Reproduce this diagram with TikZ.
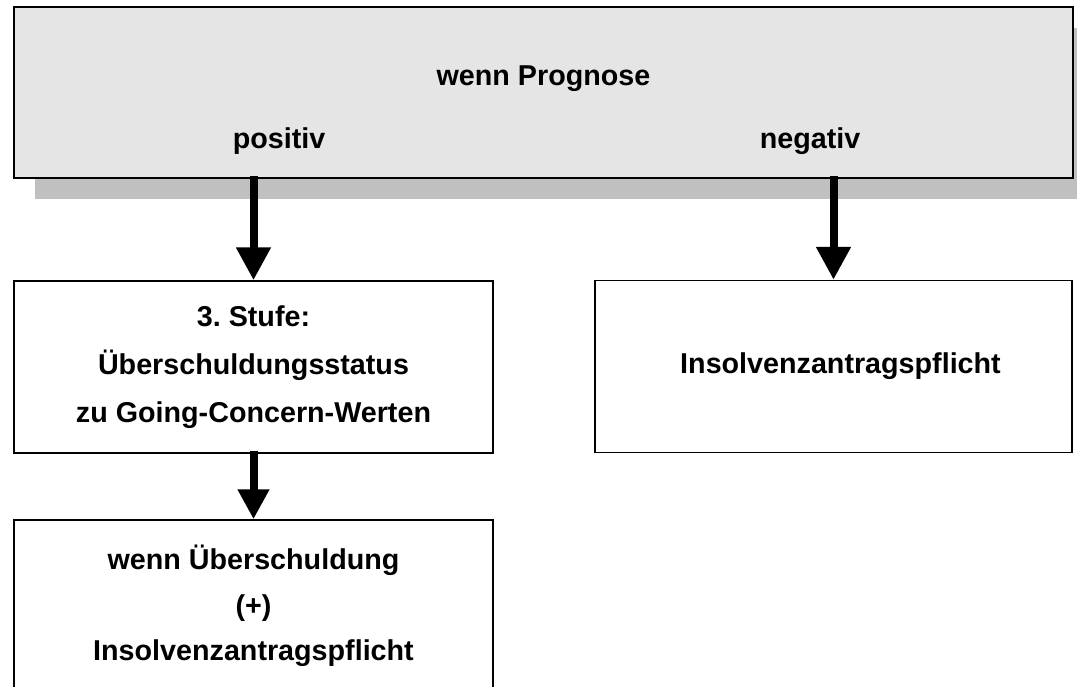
\documentclass[tikz,border=0pt]{standalone}
\usepackage{fontspec}
\setmainfont{Liberation Sans}
\usepackage{tikz}
\usetikzlibrary{arrows.meta,positioning,shadows}
\definecolor{boxgray}{HTML}{E5E5E5}
\definecolor{shadowgray}{HTML}{C0C0C0}
\frenchspacing

\begin{document}
\begin{tikzpicture}[x=1pt,y=-1pt,font=\bfseries\fontsize{28.7}{48}\selectfont,every node/.style={align=center},
  stepbox/.style={draw=black,line width=1.5pt,inner sep=0pt,minimum width=479pt,minimum height=172pt},
  headbox/.style={draw=black,line width=1.5pt,fill=boxgray,inner sep=0pt,minimum width=1059pt,minimum height=171pt,
    drop shadow={shadow xshift=21pt,shadow yshift=-21pt,fill=shadowgray,opacity=1}},
  flow/.style={line width=8pt,-{Triangle[length=#1,width=#1]}},flow/.default=33pt]
  \useasboundingbox (0,0) rectangle (1077,686);
  \node[headbox] (prognose) at (543.5,92.5) {};
  \node[anchor=base] (wenn) at (543.5,85) {wenn Prognose};
  \node[anchor=base] (positiv) at (279,148) {positiv};
  \node[anchor=base] (negativ) at (810,148) {negativ};
  \node[stepbox] (stufe) at (253.5,367) {3. Stufe:\\Überschuldungsstatus\\zu Going-Concern-Werten};
  \node[stepbox,minimum width=477pt] (pflicht) at (833.5,366.5) {\hspace*{14pt}Insolvenzantragspflicht};
  \node[stepbox,font=\bfseries\fontsize{28.7}{45.5}\selectfont] (ueber) at (253.5,606) {wenn Überschuldung\\(+)\\Insolvenzantragspflicht};
  \draw[flow,shorten <=-3pt] (prognose.south -| stufe.north) -- (stufe.north);
  \draw[flow,shorten <=-3pt] (prognose.south -| pflicht.north) -- (pflicht.north);
  \draw[flow=30pt,shorten <=-3pt] (stufe.south) -- (ueber.north);
\end{tikzpicture}
\end{document}
